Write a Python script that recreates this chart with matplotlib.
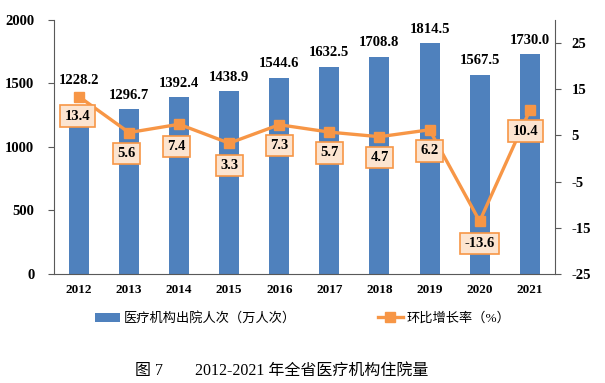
import matplotlib.pyplot as plt
import numpy as np

plt.rcParams['font.family'] = ['Liberation Serif', 'Noto Sans CJK SC']
plt.rcParams['axes.unicode_minus'] = False

years = ['2012', '2013', '2014', '2015', '2016', '2017', '2018', '2019', '2020', '2021']
discharges = [1228.2, 1296.7, 1392.4, 1438.9, 1544.6, 1632.5, 1708.8, 1814.5, 1567.5, 1730.0]
growth = [13.4, 5.6, 7.4, 3.3, 7.3, 5.7, 4.7, 6.2, -13.6, 10.4]
# label offsets (points) for the growth-rate boxes
label_offsets = [(-1, -14), (-2, -15), (-2, -16), (0, -16), (0, -15), (0, -15), (0, -15), (0, -15), (0, -16), (-3, -15)]
bar_label_offsets = [27, 10, 10, 10, 10, 10, 10, 10, 10, 10]

bar_color = '#4F81BD'
line_color = '#F79646'

fig = plt.figure(figsize=(6.05, 3.83), dpi=100)
ax = fig.add_axes([0.089, 0.285, 0.828, 0.663])
x = np.arange(len(years))

bars = ax.bar(x, discharges, width=0.4, color=bar_color, label='医疗机构出院人次（万人次）', zorder=2)
ax.set_ylim(0, 2000)
ax.set_yticks([0, 500, 1000, 1500, 2000])
ax.set_xlim(-0.5, len(years) - 0.5)
ax.set_xticks(x)
ax.set_xticklabels(years)

for s in ['top', 'right']:
    ax.spines[s].set_visible(False)
for s in ['left', 'bottom']:
    ax.spines[s].set_color('#595959')
ax.tick_params(axis='x', length=0, labelsize=9.5, pad=7)
ax.tick_params(axis='y', direction='out', length=4, color='#595959', labelsize=10.5, pad=10)
for t in ax.get_xticklabels() + ax.get_yticklabels():
    t.set_fontweight('bold')

ax2 = ax.twinx()
ax2.plot(x, growth, color=line_color, lw=2.4, marker='s', markersize=7, label='环比增长率（%）', zorder=3)
ax2.set_ylim(-25, 30)
ax2.set_yticks([-25, -15, -5, 5, 15, 25])
for s in ['top', 'left', 'bottom']:
    ax2.spines[s].set_visible(False)
ax2.spines['right'].set_color('#595959')
ax2.tick_params(axis='y', direction='out', length=4, color='#595959', labelsize=10.5, pad=8)
for t in ax2.get_yticklabels():
    t.set_fontweight('bold')

# bar value labels drawn on ax2 so they sit above the line
for v, xi, off in zip(discharges, x, bar_label_offsets):
    ax2.annotate(f'{v:.1f}', (xi, v), xycoords=ax.transData, xytext=(0, off), textcoords='offset points',
                 ha='center', va='center', fontsize=10.5, fontweight='bold')

for g, xi, off in zip(growth, x, label_offsets):
    ax2.annotate(f'{g:.1f}', (xi, g), xytext=off, textcoords='offset points',
                 ha='center', va='center', fontsize=10.5, fontweight='bold', zorder=4,
                 bbox=dict(boxstyle='square,pad=0.3', fc='#FCE4D0', ec=line_color, lw=1.2))

h1, l1 = ax.get_legend_handles_labels()
h2, l2 = ax2.get_legend_handles_labels()
fig.legend(h1 + h2, l1 + l2, loc='center', bbox_to_anchor=(0.5, 0.168), ncol=2, frameon=False,
           fontsize=9.5, columnspacing=6.2, handlelength=1.9, handletextpad=0.3)

fig.text(0.466, 0.033, '图 7        2012-2021 年全省医疗机构住院量', ha='center', va='center', fontsize=11.5)

fig.savefig('out.png', dpi=100)
